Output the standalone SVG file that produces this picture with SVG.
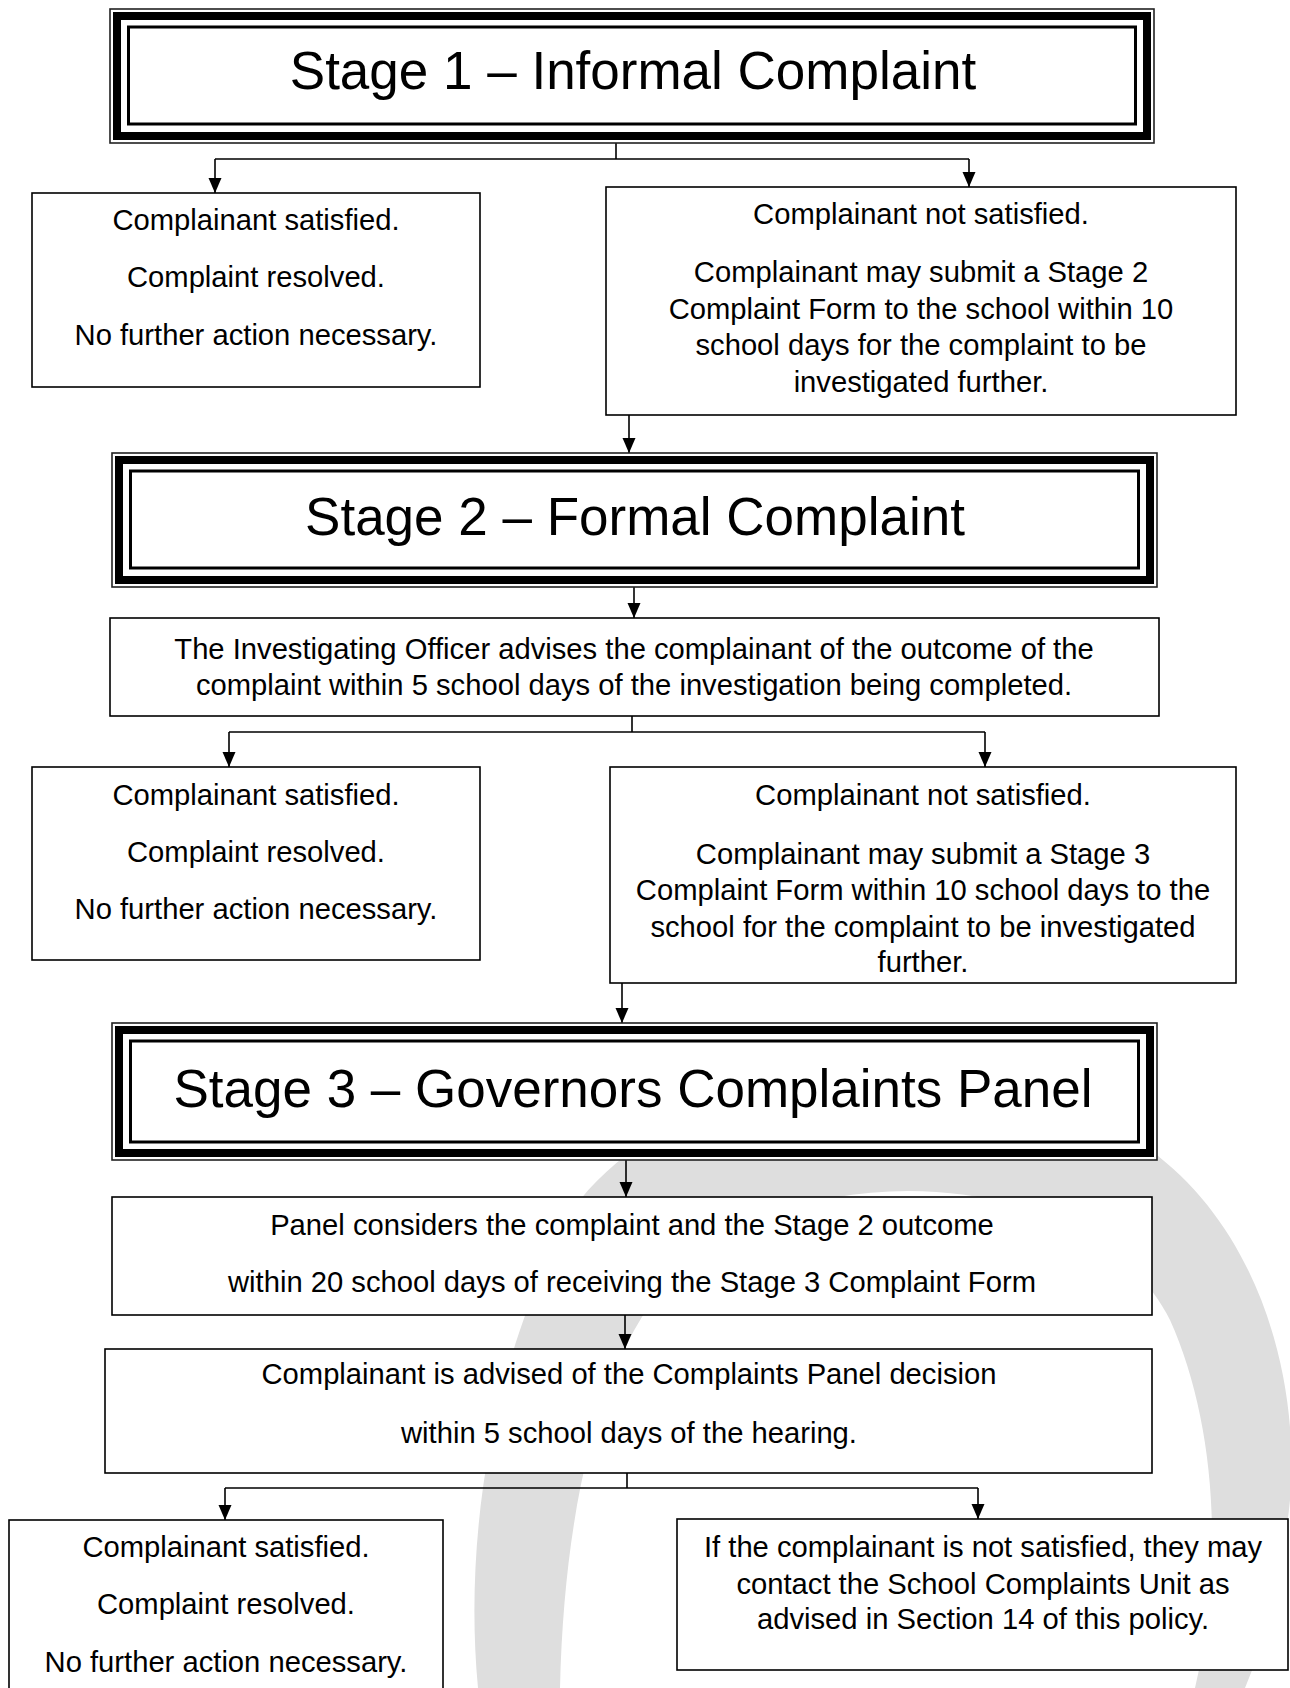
<svg xmlns="http://www.w3.org/2000/svg" width="1290" height="1688" viewBox="0 0 1290 1688">
<style>
text{font-family:"Liberation Sans",Arial,sans-serif;fill:#000;text-anchor:middle}
.t{font-size:53px}
.b{font-size:29.2px}
.box{fill:#fff;stroke:#000;stroke-width:1.6}
.o{fill:#fff;stroke:#222;stroke-width:1.6}
.k{fill:none;stroke:#000;stroke-width:8}
.i{fill:none;stroke:#000;stroke-width:3}
.c{fill:none;stroke:#000;stroke-width:1.6}
.a{fill:none;stroke:#000;stroke-width:1.6;marker-end:url(#ah)}
</style>
<defs>
<marker id="ah" markerUnits="userSpaceOnUse" viewBox="0 -7 15 14" markerWidth="15" markerHeight="14" refX="15" refY="0" orient="auto">
<path d="M0,-6.5 L15,0 L0,6.5 Z" fill="#000"/>
</marker>
</defs>
<rect width="1290" height="1688" fill="#fff"/>
<path id="watermark" fill="#dedede" d="M478,1688 C462,1520 500,1330 580,1200 C700,1050 1000,1050 1150,1150 C1260,1230 1300,1380 1290,1500 C1282,1580 1265,1640 1245,1688 L1195,1688 C1225,1560 1215,1420 1170,1320 C1100,1180 850,1150 700,1250 C610,1320 565,1480 560,1688 Z"/>

<g id="connectors">
<path class="c" d="M616,143 V159 M215,159 H969"/>
<path class="a" d="M215,159 V193"/>
<path class="a" d="M969,159 V187"/>
<path class="a" d="M629,415 V453"/>
<path class="a" d="M634,587 V618"/>
<path class="c" d="M632,716 V732 M229,732 H985"/>
<path class="a" d="M229,732 V767"/>
<path class="a" d="M985,732 V767"/>
<path class="a" d="M622,983 V1023"/>
<path class="a" d="M626,1160 V1197"/>
<path class="a" d="M625,1315 V1349"/>
<path class="c" d="M627,1473 V1488 M225,1488 H978"/>
<path class="a" d="M225,1488 V1520"/>
<path class="a" d="M978,1488 V1519"/>
</g>

<g id="stage1">
<rect class="o" x="110" y="9" width="1044" height="134"/>
<rect class="k" x="117" y="16" width="1030" height="120"/>
<rect class="i" x="128.5" y="27" width="1007" height="97"/>
<text class="t" x="633" y="89">Stage 1 – Informal Complaint</text>
</g>

<g id="s1-satisfied">
<rect class="box" x="32" y="193" width="448" height="194"/>
<text class="b" x="256" y="230">Complainant satisfied.</text>
<text class="b" x="256" y="287">Complaint resolved.</text>
<text class="b" x="256" y="345">No further action necessary.</text>
</g>

<g id="s1-not-satisfied">
<rect class="box" x="606" y="187" width="630" height="228"/>
<text class="b" x="921" y="224">Complainant not satisfied.</text>
<text class="b" x="921" y="282">Complainant may submit a Stage 2</text>
<text class="b" x="921" y="319">Complaint Form to the school within 10</text>
<text class="b" x="921" y="355">school days for the complaint to be</text>
<text class="b" x="921" y="392">investigated further.</text>
</g>

<g id="stage2">
<rect class="o" x="112" y="453" width="1045" height="134"/>
<rect class="k" x="119" y="460" width="1031" height="120"/>
<rect class="i" x="130.5" y="471" width="1008" height="97"/>
<text class="t" x="635" y="535">Stage 2 – Formal Complaint</text>
</g>

<g id="investigating">
<rect class="box" x="110" y="618" width="1049" height="98"/>
<text class="b" x="634" y="659">The Investigating Officer advises the complainant of the outcome of the</text>
<text class="b" x="634" y="695">complaint within 5 school days of the investigation being completed.</text>
</g>

<g id="s2-satisfied">
<rect class="box" x="32" y="767" width="448" height="193"/>
<text class="b" x="256" y="805">Complainant satisfied.</text>
<text class="b" x="256" y="862">Complaint resolved.</text>
<text class="b" x="256" y="919">No further action necessary.</text>
</g>

<g id="s2-not-satisfied">
<rect class="box" x="610" y="767" width="626" height="216"/>
<text class="b" x="923" y="805">Complainant not satisfied.</text>
<text class="b" x="923" y="864">Complainant may submit a Stage 3</text>
<text class="b" x="923" y="900">Complaint Form within 10 school days to the</text>
<text class="b" x="923" y="937">school for the complaint to be investigated</text>
<text class="b" x="923" y="972">further.</text>
</g>

<g id="stage3">
<rect class="o" x="112" y="1023" width="1045" height="137"/>
<rect class="k" x="119" y="1030" width="1031" height="123"/>
<rect class="i" x="130.5" y="1041" width="1008" height="101"/>
<text class="t" x="633" y="1107">Stage 3 – Governors Complaints Panel</text>
</g>

<g id="panel">
<rect class="box" x="112" y="1197" width="1040" height="118"/>
<text class="b" x="632" y="1235">Panel considers the complaint and the Stage 2 outcome</text>
<text class="b" x="632" y="1292">within 20 school days of receiving the Stage 3 Complaint Form</text>
</g>

<g id="advised">
<rect class="box" x="105" y="1349" width="1047" height="124"/>
<text class="b" x="629" y="1384">Complainant is advised of the Complaints Panel decision</text>
<text class="b" x="629" y="1443">within 5 school days of the hearing.</text>
</g>

<g id="s3-satisfied">
<rect class="box" x="9" y="1520" width="434" height="190"/>
<text class="b" x="226" y="1557">Complainant satisfied.</text>
<text class="b" x="226" y="1614">Complaint resolved.</text>
<text class="b" x="226" y="1672">No further action necessary.</text>
</g>

<g id="s3-not-satisfied">
<rect class="box" x="677" y="1519" width="611" height="151"/>
<text class="b" x="983" y="1557">If the complainant is not satisfied, they may</text>
<text class="b" x="983" y="1594">contact the School Complaints Unit as</text>
<text class="b" x="983" y="1629">advised in Section 14 of this policy.</text>
</g>
</svg>
